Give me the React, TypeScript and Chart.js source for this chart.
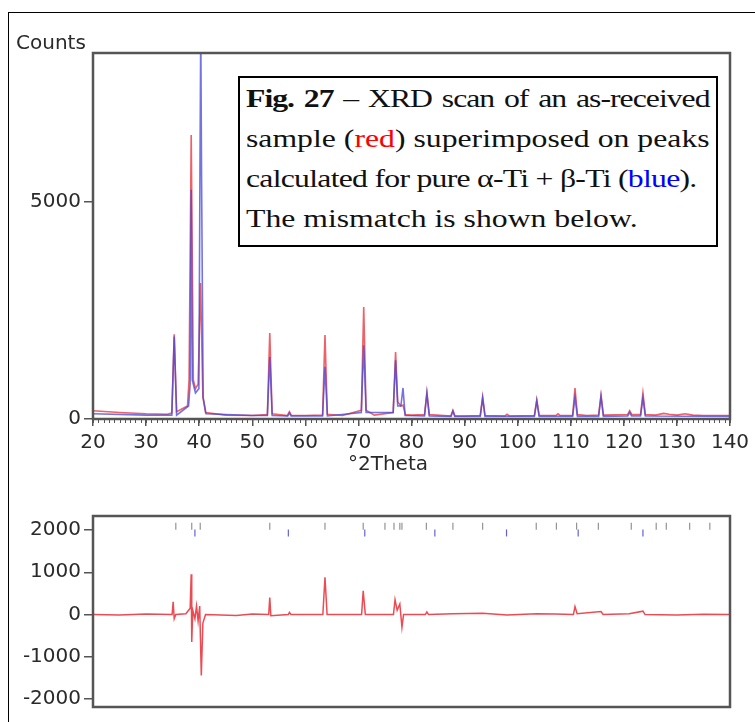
import React, { useEffect, useRef } from "react";
import { Chart, registerables } from "chart.js";

Chart.register(...registerables);

// ---- Data ----
// Observed XRD scan (red)
const obsTheta = [
  20, 25, 30, 34, 34.85, 35.3, 35.75, 37.8, 38.1, 38.5, 38.9, 39.3, 39.8, 40.25, 40.7, 41.2,
  45, 50, 52.85, 53.3, 53.75, 56.6, 57.0, 57.4, 60, 63.25, 63.7, 64.15, 67, 70.55, 71.0, 71.45,
  73, 76.55, 77.0, 77.4, 78.0, 78.4, 78.85, 80, 82.45, 82.9, 83.35, 87.4, 87.8, 88.2, 90,
  92.95, 93.4, 93.85, 97.6, 98.0, 98.4, 103.15, 103.6, 104.05, 107.2, 107.6, 108.0, 110.35, 110.8,
  111.25, 113, 115.25, 115.7, 116.15, 120.7, 121.1, 121.5, 123.15, 123.6, 124.05, 126, 127.5, 128.5,
  130, 131.5, 133, 135, 140,
];
const obsCounts = [
  190, 150, 120, 110, 140, 1950, 170, 300, 900, 6540, 900, 700, 800, 3130, 500, 150,
  90, 80, 100, 1980, 120, 80, 170, 80, 80, 90, 1935, 110, 80, 200, 2580, 200,
  90, 150, 1540, 400, 300, 320, 100, 90, 100, 600, 100, 70, 200, 70, 70,
  80, 510, 80, 70, 110, 70, 80, 440, 80, 80, 120, 80, 80, 715,
  100, 80, 90, 550, 90, 100, 190, 100, 100, 600, 100, 90, 130, 110,
  90, 120, 90, 80, 80,
];

// Calculated pattern, pure alpha-Ti + beta-Ti (blue)
const calcTheta = [
  20, 30, 34.85, 35.3, 35.75, 38.0, 38.3, 38.5, 38.7, 39.3, 39.95, 40.15, 40.3, 40.45, 40.75, 41.3,
  50, 52.85, 53.3, 53.75, 56.7, 57.0, 57.3, 63.25, 63.7, 64.15, 70.55, 71.0, 71.45, 76.55, 77.0,
  77.4, 78.0, 78.4, 78.8, 82.45, 82.9, 83.35, 87.45, 87.8, 88.15, 92.95, 93.4, 93.85, 103.15,
  103.6, 104.05, 110.35, 110.8, 111.25, 115.25, 115.7, 116.15, 120.75, 121.1, 121.45, 123.15,
  123.6, 124.05, 140,
];
const calcCounts = [
  120, 90, 90, 1900, 90, 300, 800, 5280, 900, 600, 700, 5740, 9000, 5600, 500, 120,
  80, 80, 1430, 80, 70, 140, 70, 70, 1200, 70, 150, 1700, 150, 150, 1350,
  300, 300, 715, 80, 70, 600, 70, 60, 180, 60, 60, 480, 60, 60,
  420, 60, 60, 500, 60, 60, 520, 60, 70, 150, 70, 70,
  480, 70, 60,
];

// Difference observed - calculated (mismatch)
const diffTheta = [
  20, 25, 30, 34.9, 35.1, 35.3, 35.6, 37.5, 38.3, 38.5, 38.6, 38.8, 39.2, 39.5, 39.8, 40.1, 40.4,
  40.7, 41.2, 47, 50, 53.1, 53.3, 53.5, 56.8, 57.0, 57.3, 60, 63.3, 63.7, 64.1, 70.6, 70.9, 71.3,
  76.6, 76.9, 77.3, 77.8, 78.2, 78.5, 82.6, 82.9, 83.2, 87.8, 93.4, 98, 103.6, 107, 110.5, 110.8,
  111.2, 115.7, 116.1, 121, 123.6, 124, 130, 135, 140,
];
const diffCounts = [
  0, -10, 10, 0, 300, -100, 0, 20, 150, 950, -650, 100, -100, 200, -150, 200, -1440,
  -200, 0, -20, 10, 0, 400, -30, 0, 50, 0, 0, 0, 880, 0, 0, 560, 0,
  0, 350, 100, 250, -300, 0, 0, 60, 0, 20, 30, -10, 20, 10, 0, 190,
  20, 70, 0, 20, 80, 0, -10, 5, 0,
];

// Reflection markers
const alphaMarks = [
  35.6, 38.6, 40.2, 53.3, 63.7, 70.9, 75.0, 76.7, 77.8, 78.2, 82.8, 87.8, 93.4, 103.5, 107.3,
  111.1, 115.2, 121.4, 126.1, 128.0, 132.4, 136.2,
];
const betaMarks = [39.2, 56.8, 71.2, 84.4, 97.9, 111.4, 123.6];
const alphaMarkLevel = 2090;
const betaMarkLevel = 1930;

// Axis ticks
const xTicks = [20, 30, 40, 50, 60, 70, 80, 90, 100, 110, 120, 130, 140];
const topYTicks = [0, 5000];
const bottomYTicks = [-2000, -1000, 0, 1000, 2000];

const xMin = 20;
const xMax = 140;

const FONT = "'DejaVu Sans', sans-serif";
const TICK_COLOR = "#2a2a2a";
const AXIS_COLOR = "#555";

const toPoints = (xs: number[], ys: number[]) => xs.map((x, i) => ({ x, y: ys[i] }));
const setTicks = (vals: number[]) => (s: any) => {
  s.ticks = vals.map((v) => ({ value: v }));
};

const boxPlugin = {
  id: "plotBox",
  afterDraw(chart: any) {
    const { ctx, chartArea } = chart;
    ctx.save();
    ctx.strokeStyle = AXIS_COLOR;
    ctx.lineWidth = 2.5;
    ctx.strokeRect(chartArea.left, chartArea.top, chartArea.right - chartArea.left, chartArea.bottom - chartArea.top);
    ctx.restore();
  },
};

const minorTickPlugin = {
  id: "minorTicks",
  afterDraw(chart: any) {
    const { ctx, chartArea } = chart;
    const xs = chart.scales.x;
    ctx.save();
    ctx.strokeStyle = AXIS_COLOR;
    ctx.lineWidth = 1;
    for (let v = xMin; v <= xMax; v += 1) {
      const px = Math.round(xs.getPixelForValue(v)) + 0.5;
      ctx.beginPath();
      ctx.moveTo(px, chartArea.bottom);
      ctx.lineTo(px, chartArea.bottom + 4);
      ctx.stroke();
    }
    ctx.restore();
  },
};

const yAxisCommon = {
  afterFit: (s: any) => {
    s.width = 93;
  },
  ticks: {
    color: TICK_COLOR,
    font: { family: FONT, size: 20 },
    padding: 3,
    callback: (v: any) => String(v),
  },
  grid: { drawOnChartArea: false, tickLength: 9, color: AXIS_COLOR, lineWidth: 1.5 },
  border: { display: true, color: AXIS_COLOR, width: 2 },
};

function TopChart() {
  const ref = useRef<HTMLCanvasElement>(null);
  useEffect(() => {
    const chart = new Chart(ref.current!, {
      type: "line",
      data: {
        datasets: [
          {
            label: "calculated",
            data: toPoints(calcTheta, calcCounts),
            borderColor: "rgba(70,70,215,0.75)",
            borderWidth: 1.6,
            pointRadius: 0,
            tension: 0,
          },
          {
            label: "observed",
            data: toPoints(obsTheta, obsCounts),
            borderColor: "rgba(230,30,40,0.7)",
            borderWidth: 1.6,
            pointRadius: 0,
            tension: 0,
          },
        ],
      },
      options: {
        responsive: false,
        animation: false,
        layout: { padding: { top: 53, right: 25, left: 0, bottom: 0 } },
        plugins: { legend: { display: false }, tooltip: { enabled: false } },
        scales: {
          x: {
            type: "linear",
            min: xMin,
            max: xMax,
            afterFit: (s: any) => {
              s.height = 71;
            },
            afterBuildTicks: setTicks(xTicks),
            ticks: {
              color: TICK_COLOR,
              font: { family: FONT, size: 20 },
              padding: 5,
              maxRotation: 0,
              autoSkip: false,
              callback: (v: any) => String(v),
            },
            grid: { drawOnChartArea: false, tickLength: 7, color: AXIS_COLOR, lineWidth: 1.5 },
            border: { display: true, color: AXIS_COLOR, width: 2 },
          },
          y: {
            ...yAxisCommon,
            min: 0,
            max: 8430,
            afterBuildTicks: setTicks(topYTicks),
          },
        },
      },
      plugins: [boxPlugin, minorTickPlugin],
    } as any);
    return () => chart.destroy();
  }, []);
  return (
    <canvas
      ref={ref}
      width={755}
      height={490}
      style={{ position: "absolute", left: 0, top: 0, width: 755, height: 490 }}
    />
  );
}

function BottomChart() {
  const ref = useRef<HTMLCanvasElement>(null);
  useEffect(() => {
    const markerDs = (xs: number[], level: number, color: string) => ({
      type: "scatter",
      data: xs.map((x) => ({ x, y: level })),
      pointStyle: "line",
      rotation: 90,
      radius: 3.5,
      borderColor: color,
      borderWidth: 1.2,
      showLine: false,
    });
    const chart = new Chart(ref.current!, {
      type: "line",
      data: {
        datasets: [
          {
            label: "difference",
            data: toPoints(diffTheta, diffCounts),
            borderColor: "rgba(230,30,40,0.8)",
            borderWidth: 1.5,
            pointRadius: 0,
            tension: 0,
          },
          markerDs(alphaMarks, alphaMarkLevel, "rgba(120,120,120,0.8)"),
          markerDs(betaMarks, betaMarkLevel, "rgba(60,60,200,0.8)"),
        ],
      },
      options: {
        responsive: false,
        animation: false,
        layout: { padding: { top: 26, right: 25, left: 0, bottom: 12 } },
        plugins: { legend: { display: false }, tooltip: { enabled: false } },
        scales: {
          x: {
            type: "linear",
            min: xMin,
            max: xMax,
            display: false,
          },
          y: {
            ...yAxisCommon,
            min: -2186,
            max: 2330,
            afterBuildTicks: setTicks(bottomYTicks),
          },
        },
      },
      plugins: [boxPlugin],
    } as any);
    return () => chart.destroy();
  }, []);
  return (
    <canvas
      ref={ref}
      width={755}
      height={232}
      style={{ position: "absolute", left: 0, top: 490, width: 755, height: 232 }}
    />
  );
}

const justLine: React.CSSProperties = {
  display: "block",
  whiteSpace: "nowrap",
  textAlign: "justify",
  textAlignLast: "justify" as any,
};

export default function App() {
  return (
    <div
      style={{
        position: "absolute",
        left: 0,
        top: 0,
        width: 755,
        height: 722,
        overflow: "hidden",
        background: "#fff",
      }}
    >
      <div
        style={{
          position: "absolute",
          left: 8,
          top: 12,
          width: 800,
          height: 800,
          borderLeft: "1.5px solid #000",
          borderTop: "1.5px solid #000",
        }}
      />
      <TopChart />
      <BottomChart />
      <div
        style={{
          position: "absolute",
          left: 16,
          top: 31,
          fontFamily: FONT,
          fontSize: 20,
          color: "#2a2a2a",
          lineHeight: "22px",
        }}
      >
        Counts
      </div>
      <div
        style={{
          position: "absolute",
          left: 348,
          top: 452,
          fontFamily: FONT,
          fontSize: 20,
          color: "#2a2a2a",
          lineHeight: "22px",
        }}
      >
        °2Theta
      </div>
      <div
        style={{
          position: "absolute",
          left: 238,
          top: 76,
          width: 480,
          height: 171,
          boxSizing: "border-box",
          border: "2px solid #000",
          background: "#fff",
          overflow: "hidden",
        }}
      >
        <div
          style={{
            position: "absolute",
            left: 6,
            top: 1,
            width: 380,
            transform: "scaleX(1.22)",
            transformOrigin: "0 0",
            fontFamily: "'Liberation Serif', 'Times New Roman', serif",
            fontSize: 26,
            lineHeight: "40px",
            color: "#111",
          }}
        >
          <span style={{ ...justLine, letterSpacing: "-0.8px" }}>
            <b>Fig. 27</b> – XRD scan of an as-received
          </span>
          <span style={justLine}>
            sample (<span style={{ color: "#f00" }}>red</span>) superimposed on peaks
          </span>
          <span style={{ display: "block", whiteSpace: "nowrap", letterSpacing: "-0.6px" }}>
            calculated for pure α-Ti + β-Ti (<span style={{ color: "#00f" }}>blue</span>).
          </span>
          <span style={{ display: "block", whiteSpace: "nowrap" }}>The mismatch is shown below.</span>
        </div>
      </div>
    </div>
  );
}
